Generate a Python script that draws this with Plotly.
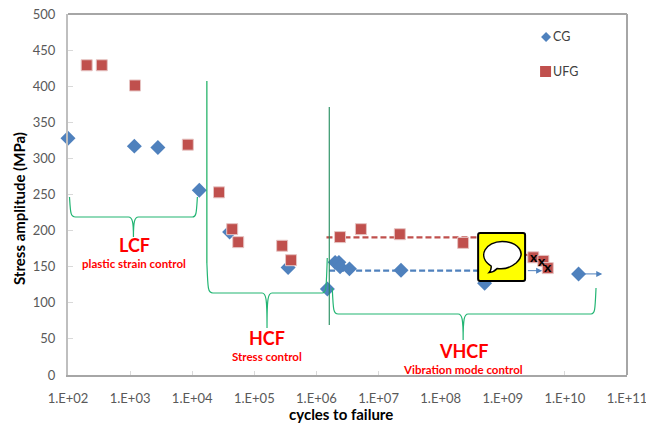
import plotly.graph_objects as go
import math

cg_cycles = [1.0e2, 1.17e3, 2.8e3, 1.3e4, 4.0e4, 3.5e5, 1.5e6, 2.0e6, 2.3e6, 2.4e6, 3.4e6, 2.3e7, 5.1e8, 1.66e10]
cg_stress = [328, 317, 315, 256, 198, 149, 119, 156, 156, 150, 147, 145, 127, 140]
ufg_cycles = [2.0e2, 3.5e2, 1.2e3, 8.5e3, 2.7e4, 4.4e4, 5.5e4, 2.8e5, 3.9e5, 2.4e6, 5.2e6, 2.2e7, 2.3e8, 3.1e9, 4.5e9, 5.3e9]
ufg_stress = [429, 429, 401, 319, 253, 202, 184, 179, 159, 191, 202, 195, 183, 163, 158, 148]
ufg_trend_x = [1.45e6, 5.0e8]
ufg_trend_y = [190.5, 190.5]
cg_trend_x = [1.6e6, 5.0e8]
cg_trend_y = [144.5, 144.5]
ufg_tail_x = [1.6e9, 3.1e9]
ufg_tail_y = [172, 163]
x_ticks = [10 ** i for i in range(2, 12)]
x_labels = ["1.E+%02d" % i for i in range(2, 12)]
y_ticks = list(range(0, 501, 50))

W, H = 646, 427
L, R, T, B = 67.5, 627, 14, 375
BLUE, RED, GREEN = "#4f81bd", "#c0504d", "#22b573"
FONT = "Lato"


def fx(p):
    return (p - L) / (R - L)


def fy(p):
    return (B - p) / (B - T)


def P(x, y):
    return "%.5f,%.5f" % (fx(x), fy(y))


fig = go.Figure()
fig.add_trace(go.Scatter(x=ufg_trend_x, y=ufg_trend_y, mode="lines", showlegend=False,
                         line=dict(color=RED, width=2.2, dash="6px,3px")))
fig.add_trace(go.Scatter(x=ufg_tail_x, y=ufg_tail_y, mode="lines", showlegend=False,
                         line=dict(color=RED, width=2)))
fig.add_trace(go.Scatter(x=cg_trend_x, y=cg_trend_y, mode="lines", showlegend=False,
                         line=dict(color=BLUE, width=2.2, dash="6px,3px")))
fig.add_trace(go.Scatter(x=cg_cycles, y=cg_stress, mode="markers", name="CG", showlegend=False,
                         cliponaxis=False,
                         marker=dict(symbol="diamond", size=11.5, color=BLUE)))
fig.add_trace(go.Scatter(x=ufg_cycles, y=ufg_stress, mode="markers", name="UFG", showlegend=False,
                         cliponaxis=False,
                         marker=dict(symbol="square", size=11, color=RED,
                                     line=dict(color="#e6c4c3", width=1))))


def bracket(xl, yl_top, xr, yr_top, ybar, xn, yn):
    return ("M " + P(xl, yl_top)
            + " C " + P(xl + 1, ybar - 4) + " " + P(xl + 1, ybar) + " " + P(xl + 6, ybar)
            + " L " + P(xn - 5, ybar)
            + " C " + P(xn - 1, ybar) + " " + P(xn, ybar + 5) + " " + P(xn, yn)
            + " C " + P(xn, ybar + 5) + " " + P(xn + 1, ybar) + " " + P(xn + 5, ybar)
            + " L " + P(xr - 5, ybar)
            + " C " + P(xr - 1, ybar) + " " + P(xr - 1, ybar - 4) + " " + P(xr, yr_top))


shapes = []
for args in [(69, 197, 197, 197, 217, 133, 237),
             (206.5, 263, 327, 258, 293, 266.7, 328),
             (332, 288, 596, 288, 314, 463, 340)]:
    shapes.append(dict(type="path", xref="paper", yref="paper", path=bracket(*args),
                       line=dict(color=GREEN, width=1.2), layer="above"))
for x, y0, y1, c in [(206.5, 81, 263, "#00a651"), (329, 107, 325, "#1f8a5a")]:
    shapes.append(dict(type="line", xref="paper", yref="paper", x0=fx(x), x1=fx(x), y0=fy(y0), y1=fy(y1),
                       line=dict(color=c, width=1.1), layer="above"))
# frame top and right
shapes.append(dict(type="line", xref="paper", yref="paper", x0=0, x1=1, y0=1, y1=1,
                   line=dict(color="#a6a6a6", width=2), layer="above"))
shapes.append(dict(type="line", xref="paper", yref="paper", x0=1, x1=1, y0=0, y1=1,
                   line=dict(color="#a6a6a6", width=2), layer="above"))
# legend keys
shapes.append(dict(type="path", xref="paper", yref="paper", layer="above", fillcolor=BLUE,
                   line=dict(width=0),
                   path="M " + P(546, 32) + " L " + P(551, 37) + " L " + P(546, 42) + " L " + P(541, 37) + " Z"))
shapes.append(dict(type="path", xref="paper", yref="paper", layer="above", fillcolor=RED,
                   line=dict(width=0),
                   path="M " + P(540, 66) + " L " + P(551, 66) + " L " + P(551, 77) + " L " + P(540, 77) + " Z"))
# speech-balloon icon
shapes.append(dict(type="path", xref="paper", yref="paper", layer="above",
                   path="M " + P(480, 233) + " L " + P(523, 233) + " Q " + P(525, 233) + " " + P(525, 235)
                        + " L " + P(525, 279) + " Q " + P(525, 281) + " " + P(523, 281)
                        + " L " + P(480, 281) + " Q " + P(478, 281) + " " + P(478, 279)
                        + " L " + P(478, 235) + " Q " + P(478, 233) + " " + P(480, 233) + " Z",
                   fillcolor="#ffff00", line=dict(color="black", width=2)))
shapes.append(dict(type="path", xref="paper", yref="paper", layer="above",
                   path="M " + P(491, 266) + " C " + P(476, 256) + " " + P(486, 241.5) + " " + P(502, 241.5)
                        + " C " + P(518, 241.5) + " " + P(527, 253) + " " + P(516, 263)
                        + " C " + P(510, 268) + " " + P(503, 269.5) + " " + P(497, 268.5)
                        + " Q " + P(494, 272) + " " + P(489, 272.5)
                        + " Q " + P(491.5, 270) + " " + P(491, 266) + " Z",
                   fillcolor="white", line=dict(color="black", width=1.5)))

annotations = []
for text, x, y, size in [("LCF", 134, 245, 18), ("plastic strain control", 134, 263.5, 11.5),
                         ("HCF", 267, 338, 18), ("Stress control", 267, 356.5, 11.5),
                         ("VHCF", 463, 350.5, 18), ("Vibration mode control", 463, 369, 11.5)]:
    annotations.append(dict(text="<b>%s</b>" % text, xref="paper", yref="paper", x=fx(x), y=fy(y),
                            showarrow=False, xanchor="center", yanchor="middle",
                            font=dict(color="#ff0000", size=size, family=FONT)))
for x, y in [(534, 256), (542, 260.5), (548, 266)]:
    annotations.append(dict(text="<b>x</b>", xref="paper", yref="paper", x=fx(x), y=fy(y),
                            showarrow=False, xanchor="center", yanchor="middle",
                            font=dict(color="black", size=14, family=FONT)))
for text, y in [("CG", 37), ("UFG", 71)]:
    annotations.append(dict(text=text, xref="paper", yref="paper", x=fx(554), y=fy(y),
                            showarrow=False, xanchor="left", yanchor="middle", xshift=-3,
                            font=dict(color="#404040", size=12.5, family=FONT)))
annotations.append(dict(text="<b>cycles to failure</b>", xref="paper", yref="paper", x=fx(341), y=fy(414),
                        showarrow=False, xanchor="center", yanchor="middle",
                        font=dict(color="black", size=15, family=FONT)))
annotations.append(dict(text="<b>Stress amplitude (MPa)</b>", xref="paper", yref="paper", x=fx(18.5), y=fy(209),
                        showarrow=False, xanchor="center", yanchor="middle", textangle=-90,
                        font=dict(color="black", size=15, family=FONT)))
# run-out arrows (log axis: annotation coordinates are log10 of the value)
for (x0, y0), x1 in [((2.4e9, 144.5), 4.3e9), ((1.66e10, 140), 4.0e10)]:
    annotations.append(dict(xref="x", yref="y", axref="x", ayref="y",
                            x=math.log10(x1), y=y0, ax=math.log10(x0), ay=y0, text="",
                            showarrow=True, arrowhead=2, arrowsize=1.2, arrowwidth=1, arrowcolor=BLUE))

fig.update_layout(
    width=W, height=H, paper_bgcolor="white", plot_bgcolor="white", showlegend=False,
    margin=dict(l=L, r=W - R, t=T, b=H - B, pad=0),
    font=dict(family=FONT, color="#595959", size=13),
    shapes=shapes, annotations=annotations,
    xaxis=dict(type="log", range=[2, 11], tickvals=x_ticks, ticktext=x_labels, tickangle=0,
               automargin=False,
               showgrid=False, zeroline=False, showline=True, linecolor="#a6a6a6", linewidth=2,
               ticks="inside", ticklen=4, tickcolor="#d9d9d9", tickwidth=1,
               ticklabelstandoff=10, ticklabeloverflow="allow",
               tickfont=dict(size=13, color="#595959")),
    yaxis=dict(range=[0, 500], tickvals=y_ticks, showgrid=False, zeroline=False,
               automargin=False,
               showline=True, linecolor="#bfbfbf", linewidth=2,
               ticks="inside", ticklen=5, tickcolor="#d9d9d9", tickwidth=1,
               ticklabelstandoff=8, ticklabeloverflow="allow",
               tickfont=dict(size=13, color="#595959")),
)
fig.write_html("out.html", config={"displayModeBar": False},
               post_script="document.body.style.margin='0';")
